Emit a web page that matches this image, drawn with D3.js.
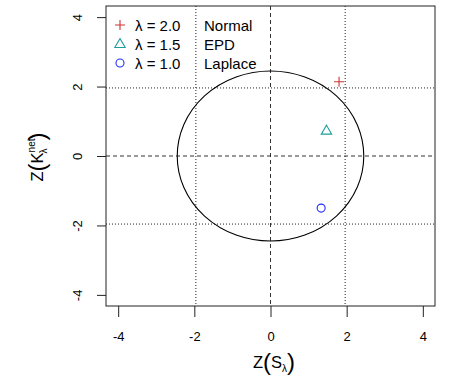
<!DOCTYPE html>
<html>
<head>
<meta charset="utf-8">
<script src="https://cdn.jsdelivr.net/npm/d3@7"></script>
<style>
  body { margin: 0; background: #fff; }
  text { font-family: "Liberation Sans", Arial, Helvetica, sans-serif; fill: #000; }
</style>
</head>
<body>
<div id="chart"></div>
<script>
// values
var lambdaLabels = ["2.0", "1.5", "1.0"];
var distNames = ["Normal", "EPD", "Laplace"];
var zS = [1.80, 1.47, 1.33];
var zK = [2.14, 0.73, -1.50];
var symbols = ["plus", "triangle", "circle"];
var colors = ["#CD3333", "#1E9E9E", "#1F2FFF"];
var axisTicks = [-4, -2, 0, 2, 4];
var critVals = [-1.96, 1.96];
var radius = Math.sqrt(6);

var svgWidth = 475, svgHeight = 382;
var box = { left: 106, right: 435, top: 6, bottom: 306 };

var svg = d3.select("#chart").append("svg")
    .attr("width", svgWidth)
    .attr("height", svgHeight);

var x = d3.scaleLinear().domain([-4.32, 4.32]).range([box.left, box.right]);
var y = d3.scaleLinear().domain([-4.32, 4.32]).range([box.bottom, box.top]);

// reference lines
var lineCol = "#222";
critVals.forEach(function(v) {
    svg.append("line").attr("x1", x(v)).attr("x2", x(v)).attr("y1", box.top).attr("y2", box.bottom)
        .attr("stroke", lineCol).attr("stroke-dasharray", "1,2");
    svg.append("line").attr("x1", box.left).attr("x2", box.right).attr("y1", y(v)).attr("y2", y(v))
        .attr("stroke", lineCol).attr("stroke-dasharray", "1,2");
});
svg.append("line").attr("x1", x(0)).attr("x2", x(0)).attr("y1", box.top).attr("y2", box.bottom)
    .attr("stroke", "#333").attr("stroke-dasharray", "4,3");
svg.append("line").attr("x1", box.left).attr("x2", box.right).attr("y1", y(0)).attr("y2", y(0))
    .attr("stroke", "#333").attr("stroke-dasharray", "4,3");

// circle of radius sqrt(6)
svg.append("ellipse")
    .attr("cx", x(0)).attr("cy", y(0))
    .attr("rx", x(radius) - x(0))
    .attr("ry", y(0) - y(radius))
    .attr("fill", "none").attr("stroke", "#000").attr("stroke-width", 1.1);

// box
svg.append("rect")
    .attr("x", box.left).attr("y", box.top)
    .attr("width", box.right - box.left).attr("height", box.bottom - box.top)
    .attr("fill", "none").attr("stroke", "#222");

// axes (plain hyphen minus like R)
var fmt = function(d) { return String(d); };

var xAxis = svg.append("g")
    .attr("transform", `translate(0, ${box.bottom})`)
    .call(d3.axisBottom(x).tickValues(axisTicks).tickSize(11).tickPadding(15).tickFormat(fmt));
xAxis.select(".domain").remove();
xAxis.selectAll("line").attr("stroke", "#222");
xAxis.selectAll("text").style("font-size", "13px").attr("fill", "#000").attr("font-family", null);

var yAxis = svg.append("g")
    .attr("transform", `translate(${box.left}, 0)`)
    .call(d3.axisLeft(y).tickValues(axisTicks).tickSize(9).tickFormat(fmt));
yAxis.select(".domain").remove();
yAxis.selectAll("line").attr("stroke", "#222");
yAxis.selectAll("text")
    .attr("x", 0).attr("dy", 0)
    .attr("text-anchor", "middle")
    .attr("transform", "translate(-24,0) rotate(-90)")
    .style("font-size", "13px").attr("fill", "#000").attr("font-family", null);

// symbol drawer
function drawSymbol(g, type, cx, cy, color) {
    if (type === "plus") {
        g.append("path").attr("d", `M${cx - 5},${cy}H${cx + 5}M${cx},${cy - 5}V${cy + 5}`)
            .attr("stroke", color).attr("stroke-width", 1.1).attr("fill", "none");
    } else if (type === "triangle") {
        g.append("path").attr("d", `M${cx},${cy - 5.5}L${cx + 5.2},${cy + 3.5}L${cx - 5.2},${cy + 3.5}Z`)
            .attr("stroke", color).attr("stroke-width", 1.1).attr("fill", "none");
    } else {
        g.append("circle").attr("cx", cx).attr("cy", cy).attr("r", 4)
            .attr("stroke", color).attr("stroke-width", 1.1).attr("fill", "none");
    }
}

// points
var pts = svg.append("g");
zS.forEach(function(v, i) {
    drawSymbol(pts, symbols[i], x(v), y(zK[i]), colors[i]);
});

// legend
var legend = svg.append("g");
lambdaLabels.forEach(function(l, i) {
    var ly = 25 + i * 19;
    drawSymbol(legend, symbols[i], 120, ly, colors[i]);
    legend.append("text").attr("x", 135).attr("y", ly + 5.5)
        .style("font-size", "15px").text("λ = " + l);
    legend.append("text").attr("x", 204).attr("y", ly + 5.5)
        .style("font-size", "15px").text(distNames[i]);
});

// x label: Z(S_λ)
var xl = svg.append("text")
    .attr("x", 274).attr("y", 368)
    .attr("text-anchor", "middle")
    .style("font-size", "16.5px");
xl.append("tspan").text("Z");
xl.append("tspan").style("font-size", "24px").attr("dy", 2).style("font-weight", "300").text("(");
xl.append("tspan").attr("dy", -2).text("S");
xl.append("tspan").style("font-size", "10px").attr("dy", 4).text("λ");
xl.append("tspan").style("font-size", "24px").attr("dy", -2).style("font-weight", "300").text(")");

// y label: Z(K_λ^net)
var yl = svg.append("text")
    .attr("transform", "translate(43, 157) rotate(-90)")
    .attr("text-anchor", "middle")
    .style("font-size", "16.5px");
yl.append("tspan").text("Z");
yl.append("tspan").style("font-size", "24px").attr("dy", 2).text("(");
yl.append("tspan").attr("dy", -2).text("K");
yl.append("tspan").style("font-size", "10px").attr("dy", -8).text("net");
yl.append("tspan").style("font-size", "10px").attr("dx", -15).attr("dy", 12).text("λ");
yl.append("tspan").style("font-size", "24px").attr("dx", 8).attr("dy", -2).text(")");
</script>
</body>
</html>
